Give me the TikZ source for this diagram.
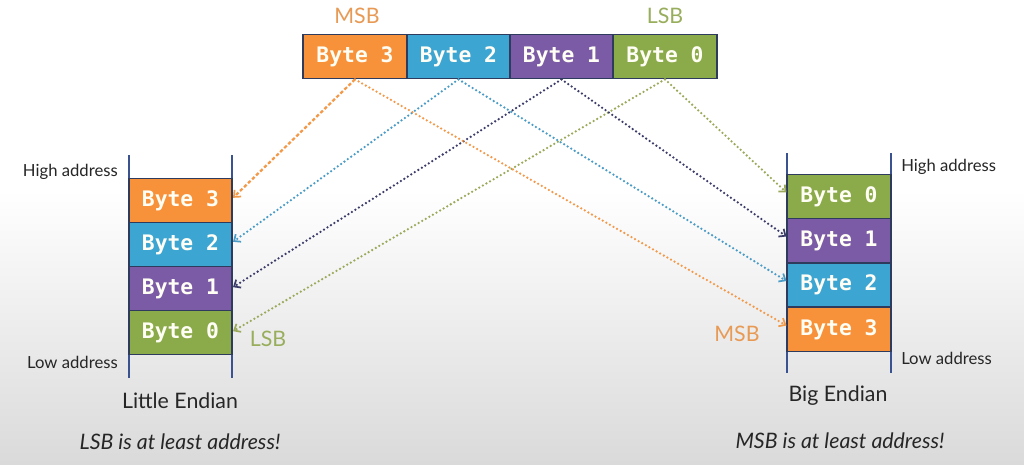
\documentclass[tikz,border=0pt]{standalone}
\usepackage{fontspec}
\setmainfont{Lato}
\setmonofont{DejaVu Sans Mono}
\usetikzlibrary{arrows.meta}
\definecolor{cOr}{HTML}{F7923A}
\definecolor{cBl}{HTML}{3DA5D2}
\definecolor{cPu}{HTML}{7C5BA6}
\definecolor{cGr}{HTML}{8BAA4A}
\definecolor{cBorder}{HTML}{2F3B5C}
\definecolor{cLine}{HTML}{3A5290}
\definecolor{aOr}{HTML}{F39A4A}
\definecolor{aBl}{HTML}{4A9CC6}
\definecolor{aPu}{HTML}{3C3C6A}
\definecolor{aGr}{HTML}{9AAA5A}
\definecolor{tOr}{HTML}{E89A55}
\definecolor{tGr}{HTML}{98AE5C}
\definecolor{bgGray}{RGB}{218,218,218}
\begin{document}
\begin{tikzpicture}[x=0.75pt,y=-0.75pt,
  bytebox/.style={draw=cBorder,line width=1.3pt,minimum width=77.5pt,minimum height=33pt,inner sep=0pt,
    text=white!96!yellow,font=\ttfamily\bfseries\fontsize{16}{16}\selectfont},
  stackline/.style={draw=cLine,line width=1.6pt},
  addr/.style={font=\fontsize{12.5}{13}\selectfont,text=black!85,inner sep=0pt},
  title/.style={font=\fontsize{16}{17}\selectfont,text=black!85,inner sep=0pt},
  note/.style={font=\itshape\fontsize{16}{17}\selectfont,text=black!85,inner sep=0pt},
  sig/.style={font=\fontsize{16}{17}\selectfont,inner sep=0pt},
  dotarrow/.style={line width=1.9pt,line cap=round,dash pattern=on 0pt off 3.1pt,
    -{Straight Barb[length=4pt,width=7pt,line width=1.3pt,line cap=butt]}},
  dasharrow/.style={line width=1.7pt,dash pattern=on 2.6pt off 1.6pt,
    -{Straight Barb[length=4pt,width=7pt,line width=1.3pt]}}
]
\useasboundingbox (0,0) rectangle (1024,464);
\fill[white] (0,0) rectangle (1024,464);
\shade[top color=white,bottom color=bgGray] (0,190) rectangle (1024,464);

% top word
\node[bytebox,fill=cOr] (t3) at (355,56.5) {Byte 3};
\node[bytebox,fill=cBl] (t2) at (458.5,56.5) {Byte 2};
\node[bytebox,fill=cPu] (t1) at (561.5,56.5) {Byte 1};
\node[bytebox,fill=cGr] (t0) at (665,56.5) {Byte 0};
\node[sig,text=tOr] (msbT) at (357,16) {MSB};
\node[sig,text=tGr] (lsbT) at (665,16) {LSB};

% little endian stack
\coordinate (llt) at (129,155); \coordinate (llb) at (129,378);
\coordinate (lrt) at (232,155); \coordinate (lrb) at (232,378);
\draw[stackline] (llt) -- (llb);
\draw[stackline] (lrt) -- (lrb);
\node[bytebox,fill=cOr] (l3) at (180.5,200.5) {Byte 3};
\node[bytebox,fill=cBl] (l2) at (180.5,244.5) {Byte 2};
\node[bytebox,fill=cPu] (l1) at (180.5,288.5) {Byte 1};
\node[bytebox,fill=cGr] (l0) at (180.5,332.5) {Byte 0};
\node[addr,anchor=east] (lhigh) at (118,172) {High address};
\node[addr,anchor=east] (llow) at (118,362) {Low address};
\node[title] (ltitle) at (180,401) {Little Endian};
\node[note] (lnote) at (180,442) {LSB is at least address!};
\node[sig,text=tGr] (lsbL) at (268,339) {LSB};

% big endian stack
\coordinate (rlt) at (787,153); \coordinate (rlb) at (787,373);
\coordinate (rrt) at (891,153); \coordinate (rrb) at (891,373);
\draw[stackline] (rlt) -- (rlb);
\draw[stackline] (rrt) -- (rrb);
\node[bytebox,fill=cGr] (r0) at (839,196.5) {Byte 0};
\node[bytebox,fill=cPu] (r1) at (839,240.5) {Byte 1};
\node[bytebox,fill=cBl] (r2) at (839,285) {Byte 2};
\node[bytebox,fill=cOr] (r3) at (839,329.5) {Byte 3};
\node[addr,anchor=west] (rhigh) at (901,167) {High address};
\node[addr,anchor=west] (rlow) at (901,358) {Low address};
\node[title] (rtitle) at (838,396) {Big Endian};
\node[note] (rnote) at (840,441) {MSB is at least address!};
\node[sig,text=tOr] (msbR) at (737,334) {MSB};

% arrows to little endian
\draw[dasharrow,aOr] (t3.south) -- ([yshift=2pt]l3.east);
\draw[dotarrow,aBl] (t2.south) -- ([yshift=2pt]l2.east);
\draw[dotarrow,aPu] (t1.south) -- ([yshift=1pt]l1.east);
\draw[dotarrow,aGr] (t0.south) -- ([yshift=1pt]l0.east);
% arrows to big endian
\draw[dotarrow,aOr] (t3.south) -- ([yshift=3pt]r3.west);
\draw[dotarrow,aBl] (t2.south) -- ([yshift=3pt]r2.west);
\draw[dotarrow,aPu] (t1.south) -- ([yshift=3pt]r1.west);
\draw[dotarrow,aGr] (t0.south) -- ([yshift=3pt]r0.west);
\end{tikzpicture}
\end{document}
